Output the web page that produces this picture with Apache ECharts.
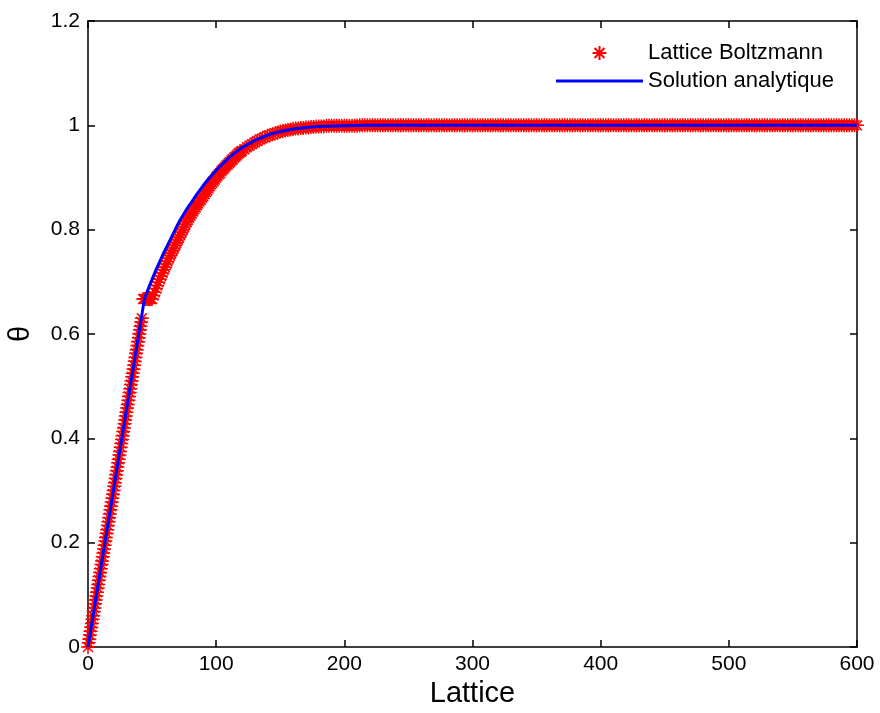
<!DOCTYPE html>
<html>
<head>
<meta charset="utf-8">
<script src="https://cdn.jsdelivr.net/npm/echarts@6/dist/echarts.min.js"></script>
<style>
html,body{margin:0;padding:0;background:#fff;}
#chart{width:880px;height:713px;}
</style>
</head>
<body>
<div id="chart"></div>
<script>
// ---- data ----
var xTicks = [0, 100, 200, 300, 400, 500, 600];
var yTicks = [0, 0.2, 0.4, 0.6, 0.8, 1, 1.2];

// Lattice Boltzmann: linear ramp (half-lattice spacing)
var lbRamp = [[0,0],[0.5,0.008],[1,0.015],[1.5,0.023],[2,0.030],[2.5,0.038],[3,0.045],[3.5,0.053],[4,0.060],[4.5,0.068],
[5,0.075],[5.5,0.083],[6,0.090],[6.5,0.098],[7,0.105],[7.5,0.113],[8,0.120],[8.5,0.128],[9,0.135],[9.5,0.143],
[10,0.150],[10.5,0.158],[11,0.165],[11.5,0.173],[12,0.180],[12.5,0.188],[13,0.195],[13.5,0.203],[14,0.210],[14.5,0.218],
[15,0.225],[15.5,0.233],[16,0.240],[16.5,0.248],[17,0.255],[17.5,0.263],[18,0.270],[18.5,0.278],[19,0.285],[19.5,0.293],
[20,0.300],[20.5,0.308],[21,0.315],[21.5,0.323],[22,0.330],[22.5,0.338],[23,0.345],[23.5,0.353],[24,0.360],[24.5,0.368],
[25,0.375],[25.5,0.383],[26,0.390],[26.5,0.398],[27,0.405],[27.5,0.413],[28,0.420],[28.5,0.428],[29,0.435],[29.5,0.443],
[30,0.450],[30.5,0.458],[31,0.465],[31.5,0.473],[32,0.480],[32.5,0.488],[33,0.495],[33.5,0.503],[34,0.510],[34.5,0.518],
[35,0.525],[35.5,0.533],[36,0.540],[36.5,0.548],[37,0.555],[37.5,0.563],[38,0.570],[38.5,0.578],[39,0.585],[39.5,0.593],
[40,0.600],[40.5,0.608],[41,0.615],[41.5,0.623],[42,0.630]];

// Lattice Boltzmann: plateau after the jump
var lbPlateau = [[43,0.667],[44,0.667],[45,0.667],[46,0.667],[47,0.667],[48,0.667],[49,0.667]];

// Lattice Boltzmann: rise towards 1
var lbRise = [[50,0.667],[51,0.674],[52,0.680],[53,0.687],[54,0.693],[55,0.699],[56,0.705],[57,0.711],[58,0.717],
[59,0.723],[60,0.728],[61,0.734],[62,0.739],[63,0.745],[64,0.750],[65,0.755],[66,0.760],[67,0.765],[68,0.770],
[69,0.775],[70,0.780],[71,0.785],[72,0.790],[73,0.795],[74,0.800],[75,0.805],[76,0.810],[77,0.815],[78,0.819],
[79,0.823],[80,0.827],[81,0.831],[82,0.835],[83,0.839],[84,0.843],[85,0.847],[86,0.850],[87,0.854],[88,0.857],
[89,0.861],[90,0.864],[91,0.868],[92,0.872],[93,0.875],[94,0.879],[95,0.883],[96,0.887],[97,0.890],[98,0.893],
[99,0.896],[100,0.900],[101,0.903],[102,0.906],[103,0.908],[104,0.912],[105,0.915],[106,0.917],[107,0.920],[108,0.923],
[109,0.925],[110,0.928],[111,0.930],[112,0.933],[113,0.935],[114,0.938],[115,0.940],[116,0.942],[117,0.945],[118,0.947],
[119,0.949],[120,0.951],[122,0.954],[124,0.958],[126,0.961],[128,0.964],[130,0.967],[132,0.970],[134,0.973],[136,0.975],
[138,0.977],[140,0.980],[142,0.981],[144,0.983],[146,0.985],[148,0.986],[150,0.988],[152,0.989],[154,0.990],[156,0.991],
[158,0.992],[160,0.993],[162,0.994],[164,0.994],[166,0.995],[168,0.995],[170,0.996],[172,0.996],[174,0.997],[176,0.997],
[178,0.998],[180,0.998],[182,0.998],[184,0.998],[186,0.999],[188,0.999],[190,0.999],[192,0.999],[194,0.999],[196,0.999],
[198,0.999],[200,0.999],[202,0.999],[204,0.999],[206,0.999],[208,0.999],[210,0.999]];

// Lattice Boltzmann: steady state
var lbFlat = [[212,1],[214,1],[216,1],[218,1],[220,1],[222,1],[224,1],[226,1],[228,1],[230,1],[232,1],[234,1],[236,1],[238,1],
[240,1],[242,1],[244,1],[246,1],[248,1],[250,1],[252,1],[254,1],[256,1],[258,1],[260,1],[262,1],[264,1],[266,1],[268,1],
[270,1],[272,1],[274,1],[276,1],[278,1],[280,1],[282,1],[284,1],[286,1],[288,1],[290,1],[292,1],[294,1],[296,1],[298,1],
[300,1],[302,1],[304,1],[306,1],[308,1],[310,1],[312,1],[314,1],[316,1],[318,1],[320,1],[322,1],[324,1],[326,1],[328,1],
[330,1],[332,1],[334,1],[336,1],[338,1],[340,1],[342,1],[344,1],[346,1],[348,1],[350,1],[352,1],[354,1],[356,1],[358,1],
[360,1],[362,1],[364,1],[366,1],[368,1],[370,1],[372,1],[374,1],[376,1],[378,1],[380,1],[382,1],[384,1],[386,1],[388,1],
[390,1],[392,1],[394,1],[396,1],[398,1],[400,1],[402,1],[404,1],[406,1],[408,1],[410,1],[412,1],[414,1],[416,1],[418,1],
[420,1],[422,1],[424,1],[426,1],[428,1],[430,1],[432,1],[434,1],[436,1],[438,1],[440,1],[442,1],[444,1],[446,1],[448,1],
[450,1],[452,1],[454,1],[456,1],[458,1],[460,1],[462,1],[464,1],[466,1],[468,1],[470,1],[472,1],[474,1],[476,1],[478,1],
[480,1],[482,1],[484,1],[486,1],[488,1],[490,1],[492,1],[494,1],[496,1],[498,1],[500,1],[502,1],[504,1],[506,1],[508,1],
[510,1],[512,1],[514,1],[516,1],[518,1],[520,1],[522,1],[524,1],[526,1],[528,1],[530,1],[532,1],[534,1],[536,1],[538,1],
[540,1],[542,1],[544,1],[546,1],[548,1],[550,1],[552,1],[554,1],[556,1],[558,1],[560,1],[562,1],[564,1],[566,1],[568,1],
[570,1],[572,1],[574,1],[576,1],[578,1],[580,1],[582,1],[584,1],[586,1],[588,1],[590,1],[592,1],[594,1],[596,1],[598,1],[600,1]];

// Solution analytique
var analytic = [[0,0],[10,0.152],[20,0.303],[30,0.455],[40,0.606],[44,0.667],[46,0.680],[48,0.693],[50,0.705],
[52,0.717],[54,0.728],[56,0.739],[58,0.750],[60,0.760],[62,0.770],[64,0.780],[66,0.790],[68,0.800],[70,0.810],
[72,0.819],[74,0.827],[76,0.835],[78,0.843],[80,0.850],[85,0.868],[90,0.885],[95,0.900],[100,0.914],[105,0.926],
[110,0.938],[115,0.948],[120,0.957],[125,0.964],[130,0.971],[135,0.976],[140,0.981],[145,0.985],[150,0.988],
[160,0.993],[170,0.996],[180,0.998],[200,0.999],[220,1.0],[600,1.0]];

var seriesNames = ['Lattice Boltzmann', 'Solution analytique'];
var xName = 'Lattice';
var yName = 'θ';

// ---- chart ----
var lbData = lbRamp.concat(lbPlateau, lbRise, lbFlat);
var FONT = 'Liberation Sans, Arial, Helvetica, sans-serif';
var asterisk = 'path://M5,0L5,10M0,5L10,5M1.46,1.46L8.54,8.54M1.46,8.54L8.54,1.46';

var chart = echarts.init(document.getElementById('chart'), null, {renderer: 'canvas'});
var axisLine = {show: true, onZero: false, lineStyle: {color: '#000', width: 1.5}};
var tick = {show: true, inside: true, length: 7, lineStyle: {color: '#000', width: 1.5}};
var option = {
  animation: false,
  backgroundColor: '#fff',
  grid: {left: 88, right: 23, top: 21, bottom: 66, containLabel: false, outerBoundsMode: 'none'},
  legend: {
    orient: 'vertical', left: 556, top: 42, padding: 0, itemWidth: 87, itemHeight: 14, itemGap: 6,
    textStyle: {fontSize: 22, lineHeight: 22, color: '#000', fontFamily: FONT},
    data: [
      {name: seriesNames[0]},
      {name: seriesNames[1], icon: 'path://M0,0L87,0L87,3L0,3Z'}
    ]
  },
  xAxis: [{
    type: 'value', min: xTicks[0], max: xTicks[xTicks.length-1], interval: xTicks[1]-xTicks[0],
    axisLine: axisLine, axisTick: tick, splitLine: {show: false},
    axisLabel: {fontSize: 21, color: '#000', fontFamily: FONT, margin: 7},
    name: xName, nameLocation: 'middle', nameGap: 31,
    nameTextStyle: {fontSize: 29, color: '#000', fontFamily: FONT}
  }, {
    type: 'value', position: 'top', min: xTicks[0], max: xTicks[xTicks.length-1], interval: xTicks[1]-xTicks[0],
    axisLine: axisLine, axisTick: tick, axisLabel: {show: false}, splitLine: {show: false}
  }],
  yAxis: [{
    type: 'value', min: yTicks[0], max: yTicks[yTicks.length-1], interval: 0.2,
    axisLine: axisLine, axisTick: tick, splitLine: {show: false},
    axisLabel: {fontSize: 21, color: '#000', fontFamily: FONT, margin: 8},
    name: yName, nameLocation: 'middle', nameGap: 53, nameRotate: 90,
    nameTextStyle: {fontSize: 29, color: '#000', fontFamily: FONT}
  }, {
    type: 'value', position: 'right', min: yTicks[0], max: yTicks[yTicks.length-1], interval: 0.2,
    axisLine: axisLine, axisTick: tick, axisLabel: {show: false}, splitLine: {show: false}
  }],
  series: [{
    name: seriesNames[0], type: 'scatter', data: lbData,
    symbol: asterisk, symbolSize: 14, z: 2,
    itemStyle: {color: 'rgba(255,0,0,0)', borderColor: '#ff0000', borderWidth: 1.5, opacity: 1}
  }, {
    name: seriesNames[1], type: 'line', data: analytic,
    showSymbol: false, symbol: 'none', smooth: false, z: 3,
    lineStyle: {color: '#0000ff', width: 3},
    itemStyle: {color: '#0000ff'}
  }]
};
chart.setOption(option);
</script>
</body>
</html>
